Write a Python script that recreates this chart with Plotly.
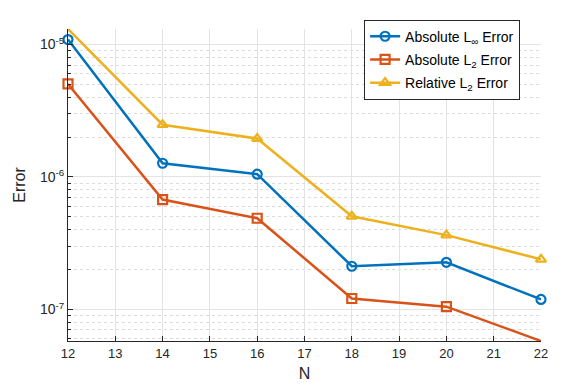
import plotly.graph_objects as go

N = [12, 14, 16, 18, 20, 22]
abs_linf = [1.09e-5, 1.27e-6, 1.05e-6, 2.12e-7, 2.27e-7, 1.19e-7]
abs_l2 = [5.04e-6, 6.75e-7, 4.88e-7, 1.21e-7, 1.05e-7, 5.78e-8]
rel_l2 = [1.31e-5, 2.48e-6, 1.95e-6, 5.05e-7, 3.64e-7, 2.39e-7]
names = ["Absolute L<sub>∞</sub> Error", "Absolute L<sub>2</sub> Error", "Relative L<sub>2</sub> Error"]
colors = ["#0072BD", "#D95319", "#EDB120"]
symbols = ["circle-open", "square-open", "triangle-up-open"]
ytickvals = [1e-7, 1e-6, 1e-5]
yticktext = ["10<sup>-7</sup>", "10<sup>-6</sup>", "10<sup>-5</sup>"]
decades = [1e-8, 1e-7, 1e-6, 1e-5]
minor_vals = [m * d for d in decades for m in range(2, 10)]

fig = go.Figure()
for i, (ys, nm, c, s) in enumerate(zip([abs_linf, abs_l2, rel_l2], names, colors, symbols)):
    fig.add_trace(go.Scatter(x=N, y=ys, name=nm, mode="lines+markers", legendgroup=f"g{i}",
                             line=dict(color=c, width=2.5),
                             marker=dict(symbol=s, size=9, color=c, line=dict(width=2.2, color=c)),
                             cliponaxis=False))

fig.update_layout(
    width=563, height=383,
    margin=dict(l=60, r=30, t=16, b=50),
    paper_bgcolor="white", plot_bgcolor="white",
    font=dict(family="Liberation Sans, Arial", size=13, color="#262626"),
    legend=dict(x=0.626, y=1.03, xanchor="left", yanchor="top",
                bgcolor="white", bordercolor="#262626", borderwidth=1,
                font=dict(size=14, color="#000"), tracegroupgap=2),
    xaxis=dict(range=[12, 22], dtick=1, tick0=12, showgrid=True, gridcolor="#e3e3e3",
               showline=True, linecolor="#262626", linewidth=1, ticks="inside", ticklen=5,
               tickcolor="#262626", zeroline=False, mirror=False, automargin=False,
               title=dict(text="N", font=dict(size=16), standoff=8)),
    yaxis=dict(type="log", range=[-7.238, -4.883], tickvals=ytickvals, ticktext=yticktext,
               tickfont=dict(size=14),
               showgrid=True, gridcolor="#e3e3e3", showline=True, linecolor="#262626",
               linewidth=1, ticks="inside", ticklen=5, tickcolor="#262626",
               minor=dict(tickmode="array", tickvals=minor_vals, ticks="inside", ticklen=3,
                          tickcolor="#262626", showgrid=True,
                          gridcolor="#dcdcdc", griddash="dot"),
               zeroline=False, automargin=False,
               title=dict(text="Error", font=dict(size=16), standoff=10)),
)
fig.write_html("out.html")
